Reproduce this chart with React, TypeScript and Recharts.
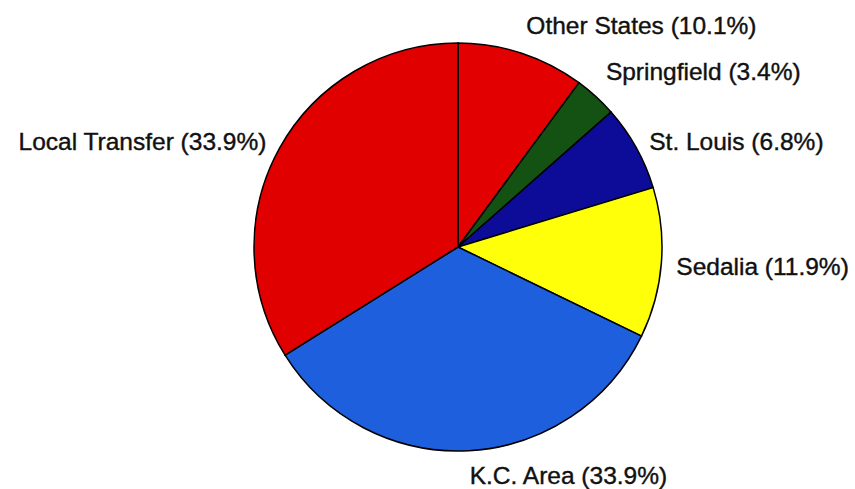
import React from "react";
import { PieChart, Pie, Cell } from "recharts";

const categories = ["Other States", "Springfield", "St. Louis", "Sedalia", "K.C. Area", "Local Transfer"];
const shares = [10.1, 3.4, 6.8, 11.9, 33.9, 33.9];
const colors = ["#e30000", "#145214", "#0c0c99", "#ffff0a", "#1e5fde", "#e00000"];
// small per-label vertical nudges (px) for legibility
const labelNudgeY = [-14, -14, 1, 2, 10, 1];

const data = categories.map((name, i) => ({ name, value: shares[i] }));

const RADIAN = Math.PI / 180;

const renderLabel = (props: any) => {
  const { cx, cy, midAngle, outerRadius, index, name, value } = props;
  const r = outerRadius + 15;
  const x = cx + r * Math.cos(-midAngle * RADIAN);
  const y = cy + r * Math.sin(-midAngle * RADIAN) + labelNudgeY[index];
  const anchor = x >= cx - 5 ? "start" : "end";
  return (
    <text
      x={x}
      y={y}
      dy="0.35em"
      textAnchor={anchor}
      fill="#111"
      stroke="#111"
      strokeWidth={0.4}
      fontFamily="'Liberation Sans', Arial, sans-serif"
      fontSize={24.5}
    >
      {`${name} (${Number(value).toFixed(1)}%)`}
    </text>
  );
};

export default function App() {
  return (
    <div style={{ position: "absolute", left: 0, top: 0, width: 855, height: 489, background: "#fff" }}>
      <PieChart width={855} height={489} margin={{ top: 0, right: 0, bottom: 0, left: 0 }}>
        <Pie
          data={data}
          dataKey="value"
          nameKey="name"
          cx={458}
          cy={247}
          outerRadius={204}
          startAngle={90}
          endAngle={-270}
          stroke="#000"
          strokeWidth={1.5}
          label={renderLabel}
          labelLine={false}
          isAnimationActive={false}
        >
          {data.map((d, i) => (
            <Cell key={d.name} fill={colors[i]} />
          ))}
        </Pie>
      </PieChart>
    </div>
  );
}
